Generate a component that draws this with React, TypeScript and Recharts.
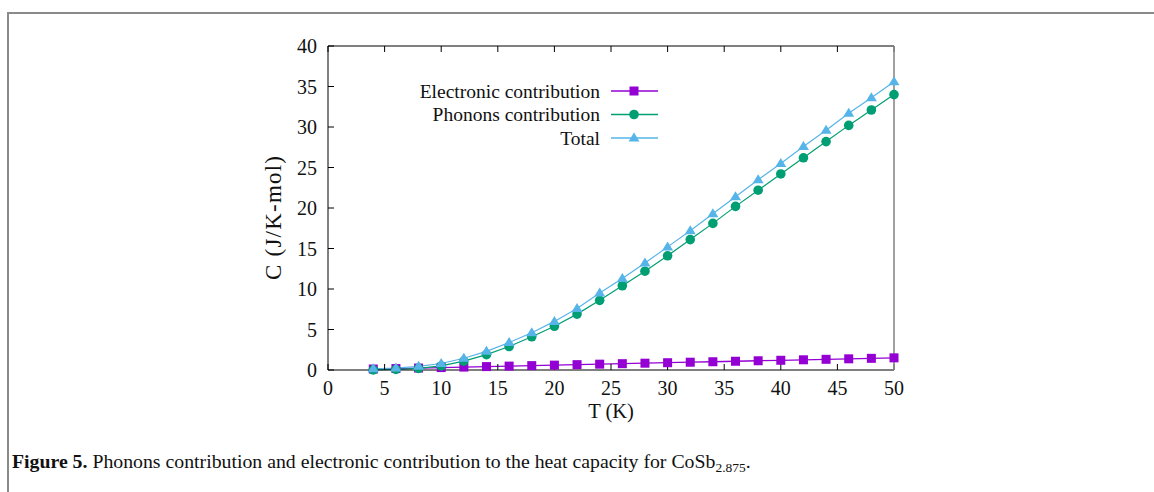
import React from "react";
import { LineChart, Line, XAxis, YAxis, Legend, Label } from "recharts";

const T_VALUES = [4, 6, 8, 10, 12, 14, 16, 18, 20, 22, 24, 26, 28, 30, 32, 34, 36, 38, 40, 42, 44, 46, 48, 50];
const ELECTRONIC = [0.12, 0.18, 0.24, 0.3, 0.36, 0.42, 0.48, 0.54, 0.6, 0.66, 0.72, 0.78, 0.84, 0.9, 0.96, 1.02, 1.08, 1.14, 1.2, 1.26, 1.32, 1.38, 1.44, 1.5];
const PHONONS = [0.02, 0.07, 0.2, 0.5, 1.1, 1.9, 2.9, 4.1, 5.4, 6.9, 8.6, 10.4, 12.2, 14.1, 16.1, 18.1, 20.2, 22.2, 24.2, 26.2, 28.2, 30.2, 32.1, 34.0];
const TOTAL = [0.14, 0.25, 0.45, 0.8, 1.45, 2.3, 3.4, 4.6, 6.0, 7.6, 9.5, 11.3, 13.2, 15.2, 17.2, 19.3, 21.4, 23.5, 25.5, 27.6, 29.6, 31.7, 33.6, 35.6];
const X_TICKS = [0, 5, 10, 15, 20, 25, 30, 35, 40, 45, 50];
const Y_TICKS = [0, 5, 10, 15, 20, 25, 30, 35, 40];
const SERIES_NAMES = ["Electronic contribution", "Phonons contribution", "Total"];
const COLORS = ["#9400d3", "#009e73", "#56b4e9"];

const data = T_VALUES.map((t, i) => ({ T: t, elec: ELECTRONIC[i], phon: PHONONS[i], total: TOTAL[i] }));

const FONT = "'Liberation Serif', 'Times New Roman', serif";

const Square = (props: any) => {
  const { cx, cy } = props;
  if (cx == null || cy == null) return <g />;
  return <rect x={cx - 4.5} y={cy - 4.5} width={9} height={9} fill={COLORS[0]} />;
};
const Circle = (props: any) => {
  const { cx, cy } = props;
  if (cx == null || cy == null) return <g />;
  return <circle cx={cx} cy={cy} r={4.8} fill={COLORS[1]} />;
};
const Triangle = (props: any) => {
  const { cx, cy } = props;
  if (cx == null || cy == null) return <g />;
  return <polygon points={`${cx},${cy - 5.5} ${cx - 5.5},${cy + 3.5} ${cx + 5.5},${cy + 3.5}`} fill={COLORS[2]} />;
};
const MARKERS = [Square, Circle, Triangle];

const renderLegend = () => {
  const rows = [91, 114.5, 138];
  return (
    <svg width={1154} height={170} style={{ display: "block" }}>
      {SERIES_NAMES.map((name, i) => {
        const M = MARKERS[i];
        return (
          <g key={name}>
            <text x={600} y={rows[i]} textAnchor="end" dominantBaseline="central" fontFamily={FONT} fontSize={19.5} fill="#111">
              {name}
            </text>
            <line x1={611} x2={658} y1={rows[i]} y2={rows[i]} stroke={COLORS[i]} strokeWidth={1.3} />
            <M cx={634} cy={rows[i]} />
          </g>
        );
      })}
    </svg>
  );
};

const noTick = () => <g />;

export default function App() {
  return (
    <div style={{ position: "absolute", left: 0, top: 0, width: 1154, height: 492, background: "#fff", overflow: "hidden" }}>
      <div style={{ position: "absolute", left: 7, top: 12, width: 1147, height: 2, background: "#8a8a8a" }} />
      <div style={{ position: "absolute", left: 7, top: 12, width: 2, height: 480, background: "#8a8a8a" }} />
      <div style={{ position: "absolute", left: 0, top: 0 }}>
        <LineChart width={1154} height={492} data={data} margin={{ top: 45, right: 259, bottom: 82, left: 268 }}>
          <XAxis
            xAxisId="b"
            dataKey="T"
            type="number"
            domain={[0, 50]}
            ticks={X_TICKS}
            height={40}
            tickSize={-6}
            tickMargin={17}
            axisLine={{ stroke: "#000", strokeWidth: 1 }}
            tickLine={{ stroke: "#000" }}
            tick={{ fontFamily: FONT, fontSize: 20, fill: "#111" }}
            interval={0}
          >
            <Label
              content={() => (
                <text x={611} y={418} textAnchor="middle" fontFamily={FONT} fontSize={20.5} fill="#111">
                  T (K)
                </text>
              )}
            />
          </XAxis>
          <XAxis
            xAxisId="t"
            orientation="top"
            dataKey="T"
            type="number"
            domain={[0, 50]}
            ticks={X_TICKS}
            height={1}
            tickSize={-6}
            axisLine={{ stroke: "#000", strokeWidth: 1 }}
            tickLine={{ stroke: "#000" }}
            tick={noTick}
            interval={0}
          />
          <YAxis
            yAxisId="l"
            type="number"
            domain={[0, 40]}
            ticks={Y_TICKS}
            width={60}
            tickSize={-6}
            tickMargin={17}
            axisLine={{ stroke: "#000", strokeWidth: 1 }}
            tickLine={{ stroke: "#000" }}
            tick={{ fontFamily: FONT, fontSize: 20, fill: "#111" }}
            interval={0}
          >
            <Label
              content={() => (
                <text
                  x={273}
                  y={218}
                  transform="rotate(-90 273 218)"
                  textAnchor="middle"
                  dominantBaseline="central"
                  fontFamily={FONT}
                  fontSize={23}
                  fill="#111"
                  textLength={124}
                  lengthAdjust="spacing"
                >
                  C (J/K-mol)
                </text>
              )}
            />
          </YAxis>
          <YAxis
            yAxisId="r"
            orientation="right"
            type="number"
            domain={[0, 40]}
            ticks={Y_TICKS}
            width={1}
            tickSize={-6}
            axisLine={{ stroke: "#8a8a8a", strokeWidth: 1.6 }}
            tickLine={{ stroke: "#000" }}
            tick={noTick}
            interval={0}
          />
          <Legend
            layout="horizontal"
            verticalAlign="middle"
            align="center"
            content={renderLegend}
            wrapperStyle={{ position: "absolute", left: 0, top: 0, width: 1154, height: 170 }}
          />
          <Line
            xAxisId="b"
            yAxisId="l"
            dataKey="elec"
            name={SERIES_NAMES[0]}
            stroke={COLORS[0]}
            strokeWidth={1.3}
            dot={Square}
            activeDot={false}
            isAnimationActive={false}
          />
          <Line
            xAxisId="b"
            yAxisId="l"
            dataKey="phon"
            name={SERIES_NAMES[1]}
            stroke={COLORS[1]}
            strokeWidth={1.2}
            dot={Circle}
            activeDot={false}
            isAnimationActive={false}
          />
          <Line
            xAxisId="b"
            yAxisId="l"
            dataKey="total"
            name={SERIES_NAMES[2]}
            stroke={COLORS[2]}
            strokeWidth={1.2}
            dot={Triangle}
            activeDot={false}
            isAnimationActive={false}
          />
        </LineChart>
      </div>
      <div
        style={{
          position: "absolute",
          left: 12,
          top: 450,
          fontFamily: FONT,
          fontSize: 19.8,
          color: "#111",
          whiteSpace: "nowrap",
        }}
      >
        <b>Figure 5.</b> Phonons contribution and electronic contribution to the heat capacity for CoSb
        <sub style={{ fontSize: 13.5, verticalAlign: "-4px" }}>2.875</sub>.
      </div>
    </div>
  );
}
